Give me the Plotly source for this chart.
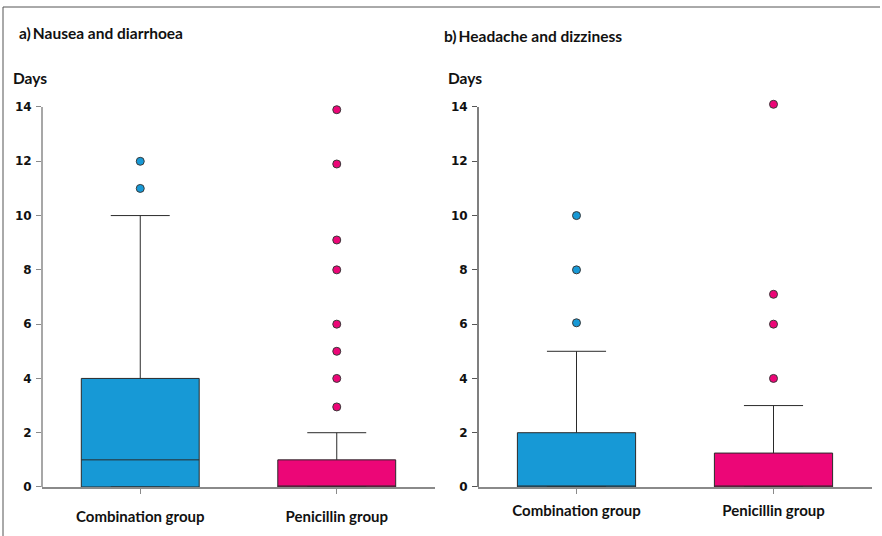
import plotly.graph_objects as go

W, H = 882, 536

categories = ["Combination group", "Penicillin group"]

# Panel a) Nausea and diarrhoea
a_q1 = [0, 0]
a_median = [1, 0]
a_q3 = [4, 1]
a_lower = [0, 0]
a_upper = [10, 2]
a_out_comb = [12, 11]
a_out_pen = [13.9, 11.9, 9.1, 8, 6, 5, 4, 2.95]

# Panel b) Headache and dizziness
b_q1 = [0, 0]
b_median = [0, 0]
b_q3 = [2, 1.25]
b_lower = [0, 0]
b_upper = [5, 3]
b_out_comb = [10, 8, 6.05]
b_out_pen = [14.1, 7.1, 6, 4]

y_ticks = [0, 2, 4, 6, 8, 10, 12, 14]
y_max = 14
y_range_top = 14.3

colors = ["#1799D6", "#EC0677"]
FONT = "Lato"

fig = go.Figure()

def add_panel(q1, med, q3, lo, up, outs, xa, ya):
    for i, cat in enumerate(categories):
        fig.add_trace(go.Box(
            x=[cat], q1=[q1[i]], median=[med[i]], q3=[q3[i]],
            lowerfence=[lo[i]], upperfence=[up[i]],
            boxpoints=False, width=0.6, whiskerwidth=0.5,
            fillcolor=colors[i], line=dict(color="#2a2a2a", width=1),
            xaxis=xa, yaxis=ya, showlegend=False, hoverinfo="skip"))
        fig.add_trace(go.Scatter(
            x=[cat] * len(outs[i]), y=outs[i], mode="markers",
            marker=dict(color=colors[i], size=8, line=dict(color="#3a3a3a", width=1)),
            cliponaxis=False, xaxis=xa, yaxis=ya, showlegend=False, hoverinfo="skip"))

add_panel(a_q1, a_median, a_q3, a_lower, a_upper, [a_out_comb, a_out_pen], "x", "y")
add_panel(b_q1, b_median, b_q3, b_lower, b_upper, [b_out_comb, b_out_pen], "x2", "y2")

# pixel geometry: 0 at y=487, 14 at y=107
px_per_unit = (487 - 107) / 14
top_px = 487 - y_range_top * px_per_unit
ydom = [1 - 487 / H, 1 - top_px / H]
xtickfont = dict(family=FONT, size=15, color="#111111", weight="bold")
ytickfont = dict(family="DejaVu Sans", size=12, color="#111111", weight="bold")

def xaxis_cfg(dom, standoff):
    return dict(domain=dom, range=[-0.5, 1.5], type="category",
                categoryorder="array", categoryarray=categories,
                showline=True, linecolor="#8a8a8a", linewidth=1.5,
                ticks="outside", ticklen=5, tickcolor="#8a8a8a", tickwidth=1,
                showgrid=False, zeroline=False, tickfont=xtickfont,
                ticklabelstandoff=standoff, automargin=False, fixedrange=True)

def yaxis_cfg(anchor, lc):
    return dict(domain=ydom, range=[0, y_range_top], tickvals=y_ticks,
                showline=False,
                ticks="outside", ticklen=5, tickcolor=lc, tickwidth=1,
                showgrid=False, zeroline=False, tickfont=ytickfont,
                ticklabelstandoff=2, anchor=anchor, automargin=False, fixedrange=True)

fig.update_layout(
    width=W, height=H,
    margin=dict(l=0, r=0, t=0, b=0),
    paper_bgcolor="white", plot_bgcolor="white",
    font=dict(family=FONT, color="#111111"),
    xaxis=dict(**xaxis_cfg([42 / W, 435 / W], 10), anchor="y"),
    xaxis2=dict(**xaxis_cfg([478 / W, 872 / W], 4), anchor="y2"),
    yaxis=yaxis_cfg("x", "#8a8a8a"),
    yaxis2=yaxis_cfg("x2", "#555555"),
)

# y axis lines from 0 to 14
for xr, yr, lc in [("x domain", "y", "#8a8a8a"), ("x2 domain", "y2", "#555555")]:
    fig.add_shape(type="line", xref=xr, yref=yr, x0=0, x1=0, y0=0, y1=y_max,
                  line=dict(color=lc, width=1.5), layer="above")

def txt(t, x, y, size=15.5):
    fig.add_annotation(text=t, x=x / W, y=1 - y / H, xref="paper", yref="paper",
                       xanchor="left", yanchor="middle", showarrow=False,
                       font=dict(family=FONT, size=size, color="#111111", weight="bold"))

txt("a)\u2009Nausea and diarrhoea", 17, 33)
txt("b)\u2009Headache and dizziness", 442, 36)
txt("Days", 11, 78)
txt("Days", 446, 78)

# frame around the figure
fig.add_shape(type="line", xref="paper", yref="paper", x0=3 / W, x1=3 / W, y0=0, y1=1 - 7 / H,
              line=dict(color="#555555", width=1))
fig.add_shape(type="line", xref="paper", yref="paper", x0=3 / W, x1=880 / W, y0=1 - 7 / H, y1=1 - 7 / H,
              line=dict(color="#555555", width=1))

fig.write_html("out.html", config={"displayModeBar": False},
               post_script="document.body.style.margin='0';")
